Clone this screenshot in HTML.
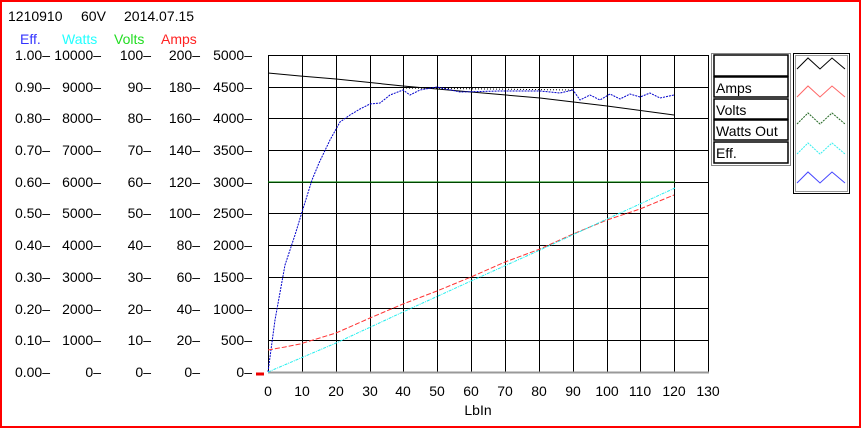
<!DOCTYPE html>
<html><head><style>
body{margin:0;background:#fff;}
.f{position:absolute;left:0;top:0;width:861px;height:428px;box-sizing:border-box;border:2px solid #f00;font-family:"Liberation Sans",sans-serif;font-size:14px;color:#111;}
</style></head><body><div class="f">
<svg width="861" height="428" style="position:absolute;left:-2px;top:-2px" font-family="Liberation Sans, sans-serif" font-size="14">
<text x="8" y="21">1210910</text><text x="81" y="21">60V</text><text x="124" y="21">2014.07.15</text>
<text x="20" y="44" fill="#3333ff">Eff.</text><text x="62" y="44" fill="#22ffff">Watts</text><text x="114" y="44" fill="#22dd22">Volts</text><text x="161" y="44" fill="#ff2222">Amps</text>
<g id="ticks" text-anchor="end">
<text x="50" y="60">1.00–</text><text x="101" y="60">10000–</text><text x="151" y="60">100–</text><text x="200" y="60">200–</text><text x="252" y="60">5000–</text>
<text x="50" y="92">0.90–</text><text x="101" y="92">9000–</text><text x="151" y="92">90–</text><text x="200" y="92">180–</text><text x="252" y="92">4500–</text>
<text x="50" y="123">0.80–</text><text x="101" y="123">8000–</text><text x="151" y="123">80–</text><text x="200" y="123">160–</text><text x="252" y="123">4000–</text>
<text x="50" y="155">0.70–</text><text x="101" y="155">7000–</text><text x="151" y="155">70–</text><text x="200" y="155">140–</text><text x="252" y="155">3500–</text>
<text x="50" y="187">0.60–</text><text x="101" y="187">6000–</text><text x="151" y="187">60–</text><text x="200" y="187">120–</text><text x="252" y="187">3000–</text>
<text x="50" y="218">0.50–</text><text x="101" y="218">5000–</text><text x="151" y="218">50–</text><text x="200" y="218">100–</text><text x="252" y="218">2500–</text>
<text x="50" y="250">0.40–</text><text x="101" y="250">4000–</text><text x="151" y="250">40–</text><text x="200" y="250">80–</text><text x="252" y="250">2000–</text>
<text x="50" y="282">0.30–</text><text x="101" y="282">3000–</text><text x="151" y="282">30–</text><text x="200" y="282">60–</text><text x="252" y="282">1500–</text>
<text x="50" y="314">0.20–</text><text x="101" y="314">2000–</text><text x="151" y="314">20–</text><text x="200" y="314">40–</text><text x="252" y="314">1000–</text>
<text x="50" y="345">0.10–</text><text x="101" y="345">1000–</text><text x="151" y="345">10–</text><text x="200" y="345">20–</text><text x="252" y="345">500–</text>
<text x="50" y="377">0.00–</text><text x="101" y="377">0–</text><text x="151" y="377">0–</text><text x="200" y="377">0–</text><text x="252" y="377">0–</text>
</g>
<line x1="256" y1="374" x2="264" y2="374" stroke="#e00" stroke-width="3"/>
<g stroke="#000" stroke-width="1">
<path d="M268 55.5H708M268 87.5H708M268 118.5H708M268 150.5H708M268 182.5H708M268 213.5H708M268 245.5H708M268 277.5H708M268 308.5H708M268 340.5H708"/>
<path d="M268.5 55V372M302.5 55V372M336.5 55V372M370.5 55V372M403.5 55V372M437.5 55V372M471.5 55V372M505.5 55V372M539.5 55V372M573.5 55V372M607.5 55V372M640.5 55V372M674.5 55V372M708.5 55V372"/>
</g>
<line x1="268" y1="372.5" x2="709" y2="372.5" stroke="#999" stroke-width="2"/>
<g text-anchor="middle"><text x="268" y="396">0</text><text x="302" y="396">10</text><text x="336" y="396">20</text><text x="370" y="396">30</text><text x="403" y="396">40</text><text x="437" y="396">50</text><text x="471" y="396">60</text><text x="505" y="396">70</text><text x="539" y="396">80</text><text x="573" y="396">90</text><text x="607" y="396">100</text><text x="640" y="396">110</text><text x="674" y="396">120</text><text x="708" y="396">130</text>
<text x="478" y="415">LbIn</text></g>
<polyline fill="none" stroke="#000" points="268,73 300,76 336,79 403,86 471,92 540,98 607,106 674,115"/>
<line x1="403" y1="88" x2="573" y2="90" stroke="#000" stroke-dasharray="1,2"/>
<line x1="268" y1="182" x2="675" y2="182" stroke="#080"/>
<polyline fill="none" stroke="#00c" stroke-dasharray="2,1" points="268,372 275,320 285,265 295,235 302,212 312,180 319,163 330,140 340,122 350,115 360,109 370,104 380,103 390,95 403,90 410,95 420,90 437,87 460,92 500,91 540,91 560,93 573,90 580,100 590,95 600,100 610,94 620,99 630,94 640,97 650,93 660,98 674,95"/>
<polyline fill="none" stroke="#f33" stroke-dasharray="5,2" points="268,350 285,347 300,344 336,333 370,318 403,304 437,291 471,277 505,262 540,249 573,234 607,220 640,209 674,195"/>
<polyline fill="none" stroke="#2ee" stroke-dasharray="3,1,1,1" points="268,372 336,343 403,312 471,281 540,250 607,219 675,188"/>
<rect x="711.5" y="53.5" width="79" height="112" fill="none" stroke="#888"/>
<g fill="none" stroke="#000" stroke-width="1.5"><rect x="714" y="55" width="74" height="21"/><rect x="714" y="77" width="74" height="20"/><rect x="714" y="99" width="74" height="20"/><rect x="714" y="120" width="74" height="20"/><rect x="714" y="142" width="74" height="21"/></g>
<text x="716" y="93">Amps</text><text x="716" y="115">Volts</text><text x="716" y="136">Watts Out</text><text x="716" y="158">Eff.</text>
<rect x="793.5" y="53.5" width="56" height="140" fill="none" stroke="#000"/>
<rect x="795.5" y="55.5" width="52" height="136" fill="none" stroke="#999"/>
<g fill="none"><polyline stroke="#000" points="797,69 808,58 820,69 832,58 845,69"/>
<polyline stroke="#f66" points="797,97 808,86 820,97 832,86 845,97"/>
<polyline stroke="#262" stroke-dasharray="2,1" points="797,124 808,113 820,124 832,113 845,124"/>
<polyline stroke="#3ee" stroke-dasharray="2,1" points="797,154 808,143 820,154 832,143 845,154"/>
<polyline stroke="#44f" points="797,183 808,172 820,183 832,172 845,183"/></g>
</svg></div></body></html>
